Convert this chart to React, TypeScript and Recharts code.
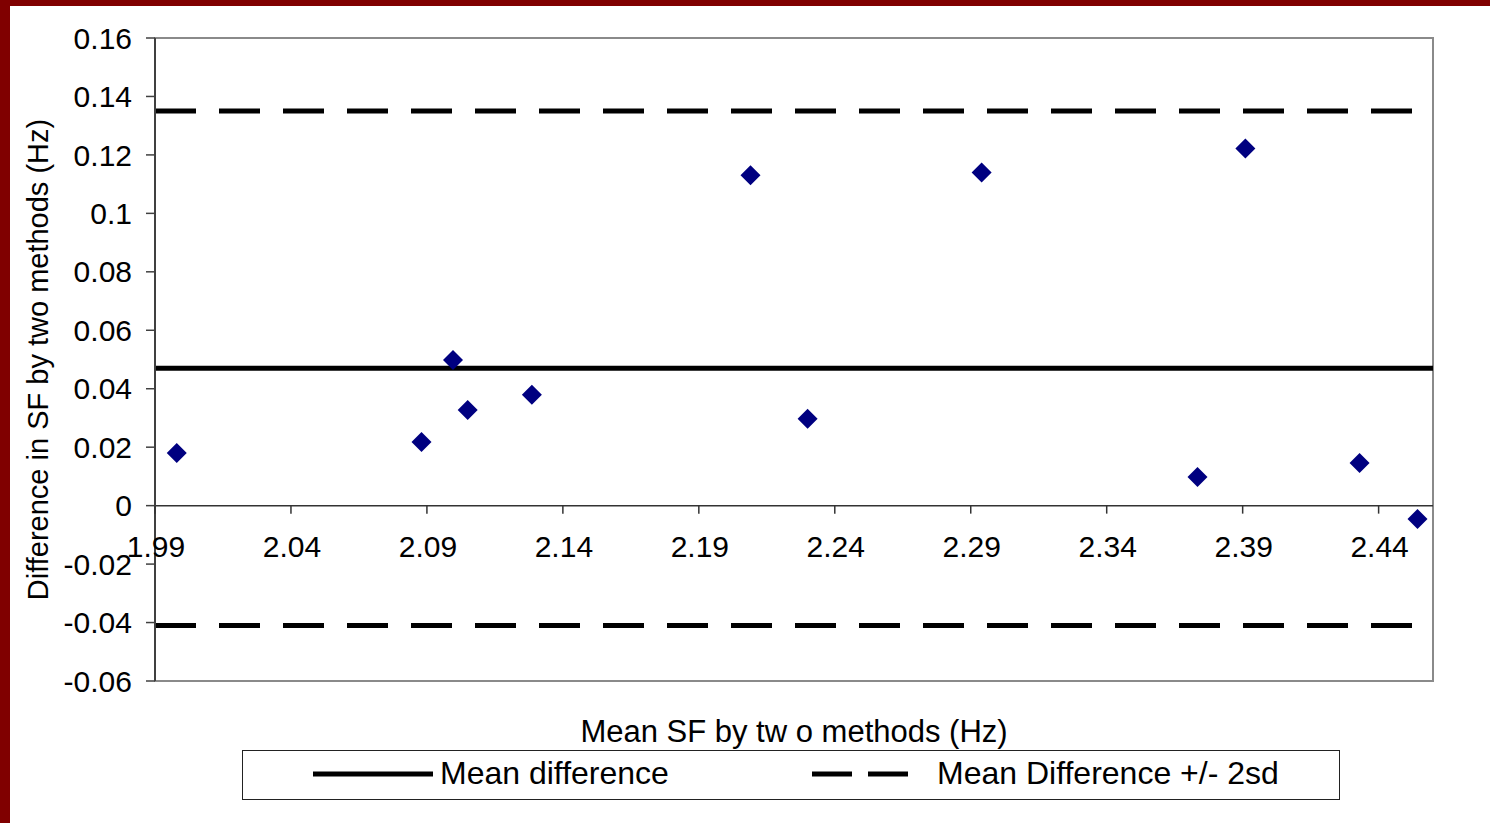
import React from 'react';
import { ScatterChart, Scatter, XAxis, YAxis, ReferenceLine, ReferenceArea, Legend } from 'recharts';

const FONT = '"Liberation Sans", Arial, sans-serif';

// Bland-Altman data: mean of the two methods vs. their difference (Hz)
const meanSF = [1.998, 2.088, 2.0996, 2.105, 2.1286, 2.209, 2.230, 2.294, 2.3734, 2.391, 2.433, 2.4543];
const diffSF = [0.018, 0.0218, 0.0498, 0.0327, 0.0379, 0.113, 0.0297, 0.114, 0.0098, 0.1222, 0.0146, -0.0046];

const meanDifference = 0.047;
const upperLimit = 0.135;
const lowerLimit = -0.041;

const xTicks = [1.99, 2.04, 2.09, 2.14, 2.19, 2.24, 2.29, 2.34, 2.39, 2.44];
const yTicks = [-0.06, -0.04, -0.02, 0, 0.02, 0.04, 0.06, 0.08, 0.1, 0.12, 0.14, 0.16];
const xMin = 1.99;
const xMax = 2.46;

const points = meanSF.map((x, i) => ({ x, y: diffSF[i] }));
const axisTicks = xTicks.map((x) => ({ x, y: 0 }));

const Diamond = (props: any) => {
  const { cx, cy } = props;
  return <path d={`M${cx},${cy - 10}L${cx + 10},${cy}L${cx},${cy + 10}L${cx - 10},${cy}Z`} fill="#000080" />;
};

// x axis sits on y = 0, so ticks and labels are drawn at the scaled zero point
const ZeroAxisTick = (props: any) => {
  const { cx, cy, payload } = props;
  return (
    <g>
      <line x1={cx} y1={cy} x2={cx} y2={cy + 8} stroke="#333" strokeWidth={1.5} />
      <text x={cx + 1} y={cy + 51} textAnchor="middle" fontSize={30} fontFamily={FONT} fill="#000">
        {payload.x.toFixed(2)}
      </text>
    </g>
  );
};

const LegendBox = () => (
  <div
    style={{
      position: 'relative',
      height: 50,
      boxSizing: 'border-box',
      border: '1px solid #222',
      background: '#fff',
      fontFamily: FONT,
      fontSize: 32,
      color: '#000',
    }}
  >
    <svg style={{ position: 'absolute', left: 70, top: 19 }} width={120} height={8}>
      <line x1={0} y1={4} x2={120} y2={4} stroke="#000" strokeWidth={5} />
    </svg>
    <span style={{ position: 'absolute', left: 197, top: 4, lineHeight: '37px', whiteSpace: 'nowrap' }}>
      Mean difference
    </span>
    <svg style={{ position: 'absolute', left: 569, top: 19 }} width={105} height={8}>
      <line x1={0} y1={4} x2={105} y2={4} stroke="#000" strokeWidth={5} strokeDasharray="40 16" />
    </svg>
    <span style={{ position: 'absolute', left: 694, top: 4, lineHeight: '37px', whiteSpace: 'nowrap' }}>
      Mean Difference +/- 2sd
    </span>
  </div>
);

export default function App() {
  return (
    <div style={{ position: 'absolute', left: 0, top: 0, width: 1490, height: 823, background: '#800000' }}>
      <div style={{ position: 'absolute', left: 10, top: 6, right: 0, bottom: 0, background: '#fff' }} />
      <div style={{ position: 'absolute', left: 0, top: 0 }}>
        <ScatterChart width={1490} height={823} margin={{ top: 38, right: 57, bottom: 23, left: 10 }}>
          <XAxis
            type="number"
            dataKey="x"
            domain={[xMin, xMax]}
            ticks={xTicks}
            tick={false}
            tickLine={false}
            axisLine={false}
            height={69}
            label={{
              value: 'Mean SF by tw o methods (Hz)',
              position: 'insideBottom',
              offset: 8,
              fill: '#000',
              style: { fontSize: 31, fontFamily: FONT, fill: '#000' },
            }}
          />
          <YAxis
            type="number"
            dataKey="y"
            domain={[-0.06, 0.16]}
            ticks={yTicks}
            interval={0}
            width={145}
            tickSize={9}
            tickMargin={14}
            axisLine={{ stroke: '#404040', strokeWidth: 2 }}
            tickLine={{ stroke: '#404040', strokeWidth: 1.5 }}
            tick={{ fill: '#000', fontSize: 30, fontFamily: FONT }}
            tickFormatter={(v: number) => String(v)}
            label={{
              value: 'Difference in SF by two methods (Hz)',
              angle: -90,
              position: 'insideLeft',
              offset: 28,
              style: { textAnchor: 'middle', fontSize: 29, fontFamily: FONT, fill: '#000' },
            }}
          />
          <ReferenceArea x1={xMin} x2={xMax} y1={-0.06} y2={0.16} fill="none" stroke="#8a8a8a" strokeWidth={2} />
          <ReferenceLine y={0} stroke="#333" strokeWidth={1.5} />
          <ReferenceLine y={upperLimit} stroke="#000" strokeWidth={5} strokeDasharray="41 23" />
          <ReferenceLine y={meanDifference} stroke="#000" strokeWidth={5} />
          <ReferenceLine y={lowerLimit} stroke="#000" strokeWidth={5} strokeDasharray="41 23" />
          <Scatter data={axisTicks} shape={ZeroAxisTick} isAnimationActive={false} legendType="none" />
          <Scatter data={points} shape={Diamond} isAnimationActive={false} />
          <Legend verticalAlign="bottom" content={LegendBox} wrapperStyle={{ left: 242, width: 1098, bottom: 23 }} />
        </ScatterChart>
      </div>
    </div>
  );
}
